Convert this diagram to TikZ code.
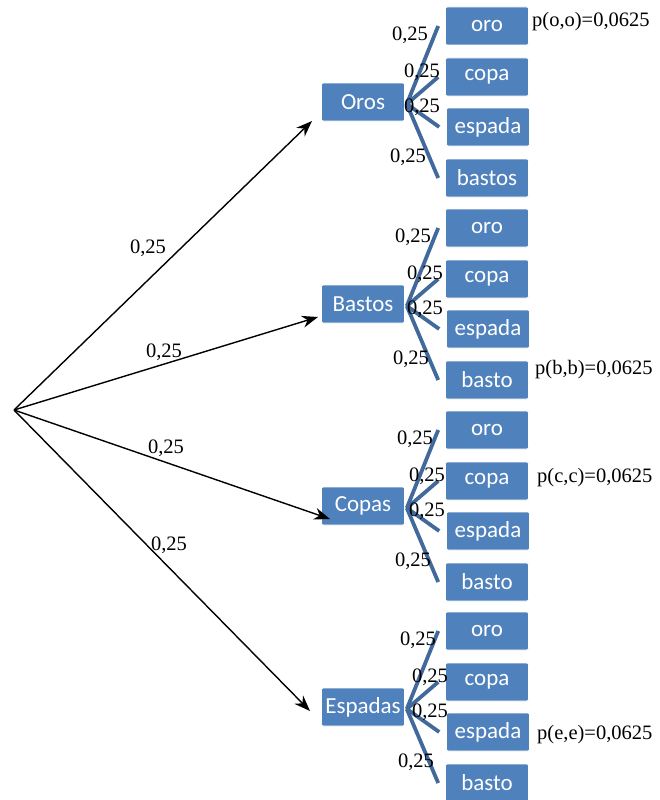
\documentclass[tikz,border=0pt]{standalone}
\usepackage{fontspec}
\setmainfont{Liberation Serif}
\newfontfamily\boxfont{Carlito}
\usetikzlibrary{arrows.meta}
\definecolor{boxblue}{HTML}{4F81BD}
\definecolor{linkblue}{HTML}{41699B}
\tikzset{
  bx/.style={draw=white, line width=0.6pt, fill=boxblue, rounded corners=2pt, minimum height=38pt, inner sep=0pt,
     text=white, font=\boxfont\fontsize{23}{23}\selectfont},
  parent/.style={bx, minimum width=83pt},
  child/.style={bx, minimum width=83pt},
  conn/.style={draw=linkblue, line width=3.8pt},
  arr/.style={draw=black, line width=1.4pt, -{Stealth[length=16pt,width=12pt]}},
  lbl/.style={font=\fontsize{20.5}{20.5}\selectfont, inner sep=0pt},
}
\begin{document}
\begin{tikzpicture}[x=1pt,y=-1pt]
\useasboundingbox (0,0) rectangle (659,800);
\coordinate (root) at (14,410);
% parents
\foreach \n/\t/\y in {Po/Oros/102, Pb/Bastos/304, Pc/Copas/506, Pe/Espadas/707}{
  \node[parent] (\n) at (363,\y) {\t};
}
% arrow end points
\coordinate (ao) at (312,121);
\coordinate (ab) at (318,317);
\coordinate (ac) at (330,519);
\coordinate (ae) at (310,711);
\draw[arr] (root) -- (ao);
\draw[arr] (root) -- (ab);
\draw[arr] (root) -- (ac);
\draw[arr] (root) -- (ae);
\node[lbl] at (148,248) {0,25};
\node[lbl] at (164,352) {0,25};
\node[lbl] at (166,448) {0,25};
\node[lbl] at (169,545) {0,25};
% children
\foreach \n/\y/\la/\lb/\lc/\ld/\dx in {Po/102/oro/copa/espada/bastos/0, Pb/304/oro/copa/espada/basto/3, Pc/506/oro/copa/espada/basto/5, Pe/707/oro/copa/espada/basto/8}{
  \node[child] (\n1) at (487,\y-76) {\la};
  \node[child] (\n2) at (487,\y-25) {\lb};
  \node[child] (\n3) at (488,\y+25) {\lc};
  \node[child] (\n4) at (487,\y+76) {\ld};
  \foreach \k in {1,2,3,4}{
    \draw[conn] ([xshift=2pt,yshift=-2pt]\n.east) -- ([xshift=-7pt]\n\k.west);
  }
  \node[lbl] at (410+\dx,\y-67) {0,25};
  \node[lbl] at (422+\dx,\y-30) {0,25};
  \node[lbl] at (422+\dx,\y+5) {0,25};
  \node[lbl] at (408+\dx,\y+55) {0,25};
}
\node[lbl, anchor=west] at (532,22) {p(o,o)=0,0625};
\node[lbl, anchor=west] at (535,370) {p(b,b)=0,0625};
\node[lbl, anchor=west] at (537,478) {p(c,c)=0,0625};
\node[lbl, anchor=west] at (537,735) {p(e,e)=0,0625};
\end{tikzpicture}
\end{document}
